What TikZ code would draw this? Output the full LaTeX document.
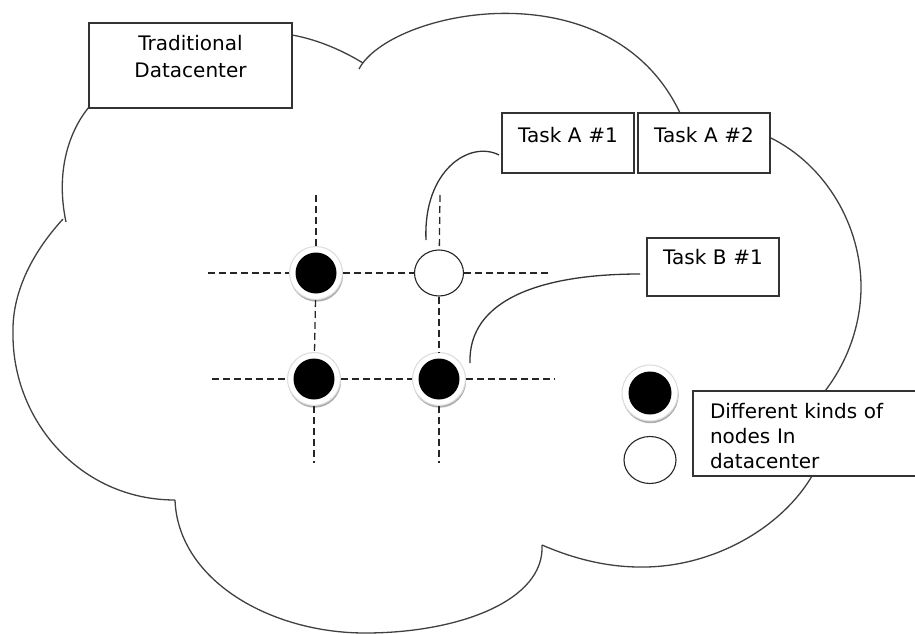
\documentclass[tikz,border=0pt]{standalone}
\usepackage{fontspec}
\setmainfont{DejaVu Sans}
\usetikzlibrary{shapes.geometric,shadows,calc}
\begin{document}
\begin{tikzpicture}[x=1pt,y=-1pt,
  cloudline/.style={draw=black!75, line width=1.3pt},
  gridline/.style={draw=black!85, line width=1.3pt, dash pattern=on 7pt off 4pt},
  link/.style={draw=black!80, line width=1.3pt},
  box/.style={rectangle, draw=black!80, line width=1.4pt, fill=white, inner xsep=0pt, inner ysep=0pt, outer sep=0pt, anchor=north west, align=center, font=\fontsize{20}{27}\selectfont},
  bnode/.style={circle, minimum size=53pt, inner sep=0pt, fill=white, draw=black!14, line width=1pt,
    drop shadow={shadow xshift=0.6pt, shadow yshift=-2.2pt, fill=black!40, opacity=0.8},
    path picture={\fill[black] (path picture bounding box.center) circle (20.5pt);}},
  wnode/.style={ellipse, minimum width=49pt, minimum height=46pt, inner sep=0pt, fill=white, draw=black!85, line width=1.1pt}]
\useasboundingbox (0,0) rectangle (915,634);

% cloud
\draw[cloudline] (89,107) .. controls (70,130) and (55,170) .. (66,222);
\draw[cloudline] (63,219) .. controls (30,255) and (12,295) .. (13,333) .. controls (12,420) and (80,500) .. (175,500);
\draw[cloudline] (175,500) .. controls (178,580) and (270,633) .. (365,633) .. controls (460,633) and (545,600) .. (542,545);
\draw[cloudline] (542,545) .. controls (565,555) and (600,567) .. (640,567) .. controls (710,568) and (780,530) .. (812,476);
\draw[cloudline] (825,391) .. controls (845,365) and (860,330) .. (861,290) .. controls (862,225) and (825,165) .. (771,138);
\draw[cloudline] (680,113) .. controls (610,-35) and (390,10) .. (359,69);
\draw[cloudline] (363,63) .. controls (345,52) and (320,40) .. (292,35);

% grid nodes
\node[bnode] (n11) at (316,273) {};
\node[wnode] (n12) at (439,273) {};
\node[bnode] (n21) at (314,379) {};
\node[bnode] (n22) at (439,379) {};

\coordinate (hl1) at (208,273);
\coordinate (hr1) at (552,273);
\coordinate (hl2) at (212,379);
\coordinate (hr2) at (555,379);
\coordinate (vt1) at (316,195);
\coordinate (vb1) at (314,463);
\coordinate (vt2) at (440,195);
\coordinate (vb2) at (439,463);

\draw[gridline] (hl1) -- (n11);
\draw[gridline] (n11) -- (n12);
\draw[gridline] (n12) -- (hr1);
\draw[gridline] (hl2) -- (n21);
\draw[gridline] (n21) -- (n22);
\draw[gridline] (n22) -- (hr2);
\draw[gridline] (vt1) -- (n11);
\draw[gridline] (n11) -- (n21);
\draw[gridline] (n21) -- (vb1);
\draw[gridline] (vt2) -- (n12);
\draw[gridline] (n12) -- (n22);
\draw[gridline] (n22) -- (vb2);

% legend nodes
\node[bnode, minimum size=56pt, path picture={\fill[black] (path picture bounding box.center) circle (21.5pt);}] (lb) at (650,393) {};
\node[wnode, minimum width=52pt, minimum height=47pt] (lw) at (650,460) {};

% boxes
\node[box, text width=203pt, text height=28pt, text depth=57pt] (trad) at (89,23) {Traditional\\Datacenter};
\node[box, text width=132pt, text height=29pt, text depth=31pt] (ta1) at (502,113) {Task A \#1};
\node[box, text width=132pt, text height=29pt, text depth=31pt] (ta2) at (638,113) {Task A \#2};
\node[box, text width=132pt, text height=26pt, text depth=32pt] (tb1) at (647,238) {Task B \#1};
\node[box, align=left, inner xsep=17pt, text width=210pt, text height=27pt, text depth=58pt, font=\fontsize{20}{25}\selectfont] (leg) at (693,391) {Different kinds of\\nodes In\\datacenter};

% connectors
\coordinate (a1s) at (426,240);
\coordinate (a1e) at ($(ta1.west)+(-3,12)$);
\coordinate (b1s) at (470,363);
\coordinate (b1e) at ($(tb1.west)+(-7,7)$);
\draw[link] (a1s) .. controls (423,170) and (470,140) .. (a1e);
\draw[link] (b1s) .. controls (468,300) and (540,274) .. (b1e);
\end{tikzpicture}
\end{document}
